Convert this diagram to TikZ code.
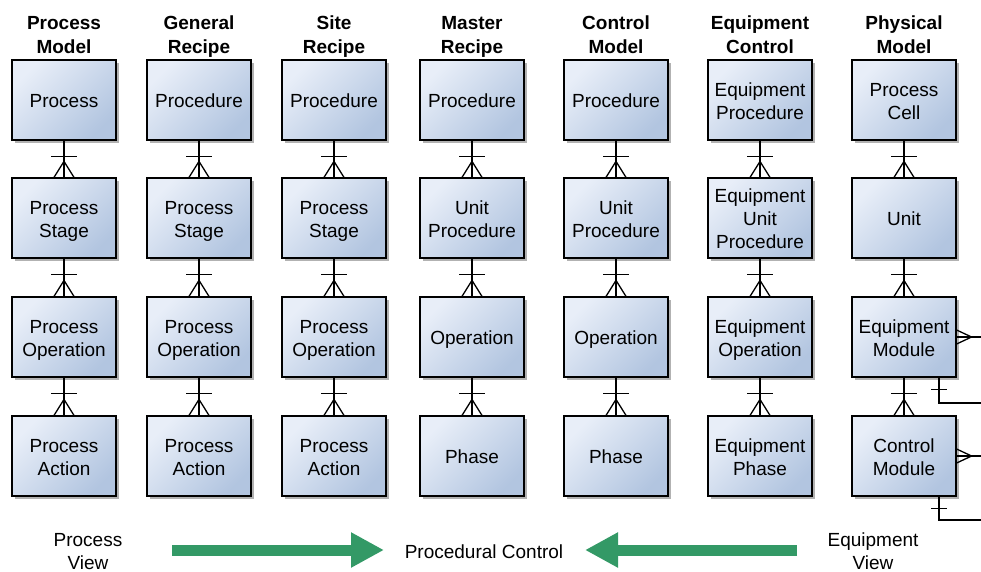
\documentclass[tikz,border=0pt]{standalone}
\usepackage{fontspec}
\setmainfont{Liberation Sans}
\usetikzlibrary{arrows.meta,shadows,calc}
\definecolor{boxlight}{HTML}{E8EEF8}
\definecolor{boxdark}{HTML}{B2C5E0}
\definecolor{arrgreen}{HTML}{339966}
\newcommand\boxstrut{\vrule width0pt height19pt depth4pt\relax}
\newcommand\headstrut{\vrule width0pt height17pt depth6pt\relax}
\newcommand\topstrut{\vrule width0pt height19pt depth0pt\relax}
\newcommand\bt[1]{\boxstrut#1\boxstrut}
\newcommand\hdt[1]{\headstrut#1\headstrut}
\newcommand\lbt[1]{\topstrut#1}
\tikzset{
  box/.style={draw=black, line width=1.2pt, minimum width=104pt, minimum height=80pt,
    inner sep=0pt, align=center, top color=boxlight, bottom color=boxdark, shading angle=45,
    drop shadow={shadow xshift=2.5pt, shadow yshift=-2.5pt, opacity=0.3, fill=black},
    font=\fontsize{19}{23}\selectfont},
  header/.style={align=center, inner sep=0pt, font=\bfseries\fontsize{19}{24}\selectfont},
  label/.style={align=center, inner sep=0pt, font=\fontsize{19}{23}\selectfont},
  conn/.style={draw=black, line width=1.3pt},
  bigarrow/.style={draw=arrgreen, line width=11pt, -{Triangle[length=33pt,width=33pt]}}
}
\newcommand\erlink[2]{%
  \draw[conn] (#1.south) -- (#2.north);
  \draw[conn] ([xshift=-13pt,yshift=-16pt]#1.south) -- ++(26pt,0);
  \draw[conn] ([xshift=-10pt]#2.north) -- ([yshift=16pt]#2.north) -- ([xshift=10pt]#2.north);
}
\begin{document}
\begin{tikzpicture}[x=1pt,y=-1pt]
\useasboundingbox (0,0) rectangle (981,571);
% headers
\node[header] (h1) at (64,35.5) {\hdt{Process\\Model}};
\node[header] (h2) at (199,35.5) {\hdt{General\\Recipe}};
\node[header] (h3) at (334,35.5) {\hdt{Site\\Recipe}};
\node[header] (h4) at (472,35.5) {\hdt{Master\\Recipe}};
\node[header] (h5) at (616,35.5) {\hdt{Control\\Model}};
\node[header] (h6) at (760,35.5) {\hdt{Equipment\\Control}};
\node[header] (h7) at (904,35.5) {\hdt{Physical\\Model}};
% column 1
\node[box] (c1r1) at (64,100) {\bt{Process}};
\node[box] (c1r2) at (64,218) {\bt{Process\\Stage}};
\node[box] (c1r3) at (64,337) {\bt{Process\\Operation}};
\node[box] (c1r4) at (64,456) {\bt{Process\\Action}};
% column 2
\node[box] (c2r1) at (199,100) {\bt{Procedure}};
\node[box] (c2r2) at (199,218) {\bt{Process\\Stage}};
\node[box] (c2r3) at (199,337) {\bt{Process\\Operation}};
\node[box] (c2r4) at (199,456) {\bt{Process\\Action}};
% column 3
\node[box] (c3r1) at (334,100) {\bt{Procedure}};
\node[box] (c3r2) at (334,218) {\bt{Process\\Stage}};
\node[box] (c3r3) at (334,337) {\bt{Process\\Operation}};
\node[box] (c3r4) at (334,456) {\bt{Process\\Action}};
% column 4
\node[box] (c4r1) at (472,100) {\bt{Procedure}};
\node[box] (c4r2) at (472,218) {\bt{Unit\\Procedure}};
\node[box] (c4r3) at (472,337) {\bt{Operation}};
\node[box] (c4r4) at (472,456) {\bt{Phase}};
% column 5
\node[box] (c5r1) at (616,100) {\bt{Procedure}};
\node[box] (c5r2) at (616,218) {\bt{Unit\\Procedure}};
\node[box] (c5r3) at (616,337) {\bt{Operation}};
\node[box] (c5r4) at (616,456) {\bt{Phase}};
% column 6
\node[box] (c6r1) at (760,100) {\bt{Equipment\\Procedure}};
\node[box] (c6r2) at (760,218) {\bt{Equipment\\Unit\\Procedure}};
\node[box] (c6r3) at (760,337) {\bt{Equipment\\Operation}};
\node[box] (c6r4) at (760,456) {\bt{Equipment\\Phase}};
% column 7
\node[box] (c7r1) at (904,100) {\bt{Process\\Cell}};
\node[box] (c7r2) at (904,218) {\bt{Unit}};
\node[box] (c7r3) at (904,337) {\bt{Equipment\\Module}};
\node[box] (c7r4) at (904,456) {\bt{Control\\Module}};
% links
\foreach \c in {1,...,7}{
  \erlink{c\c r1}{c\c r2}
  \erlink{c\c r2}{c\c r3}
  \erlink{c\c r3}{c\c r4}
}
% right side links of physical model
\coordinate (emright) at (981,337);
\coordinate (embot) at (981,403);
\coordinate (cmright) at (981,456);
\coordinate (cmbot) at (981,520);
\draw[conn] (c7r3.east) -- (emright);
\draw[conn] ([yshift=7pt]c7r3.east) -- ([xshift=15pt]c7r3.east) -- ([yshift=-7pt]c7r3.east);
\draw[conn] ([xshift=35pt]c7r3.south) |- (embot);
\draw[conn] ([xshift=27pt,yshift=-12pt]c7r3.south) -- ++(16pt,0);
\draw[conn] (c7r4.east) -- (cmright);
\draw[conn] ([yshift=7pt]c7r4.east) -- ([xshift=15pt]c7r4.east) -- ([yshift=-7pt]c7r4.east);
\draw[conn] ([xshift=35pt]c7r4.south) |- (cmbot);
\draw[conn] ([xshift=27pt,yshift=-12pt]c7r4.south) -- ++(16pt,0);
% bottom
\node[label] (pv) at (88,549) {\lbt{Process\\View}};
\node[label] (pc) at (484,551) {\bt{Procedural Control}};
\node[label] (ev) at (873,549) {\lbt{Equipment\\View}};
\coordinate (a1s) at (172,550);
\coordinate (a1e) at (384,550);
\coordinate (a2s) at (797,550);
\coordinate (a2e) at (585,550);
\draw[bigarrow] (a1s) -- (a1e);
\draw[bigarrow] (a2s) -- (a2e);
\end{tikzpicture}
\end{document}
